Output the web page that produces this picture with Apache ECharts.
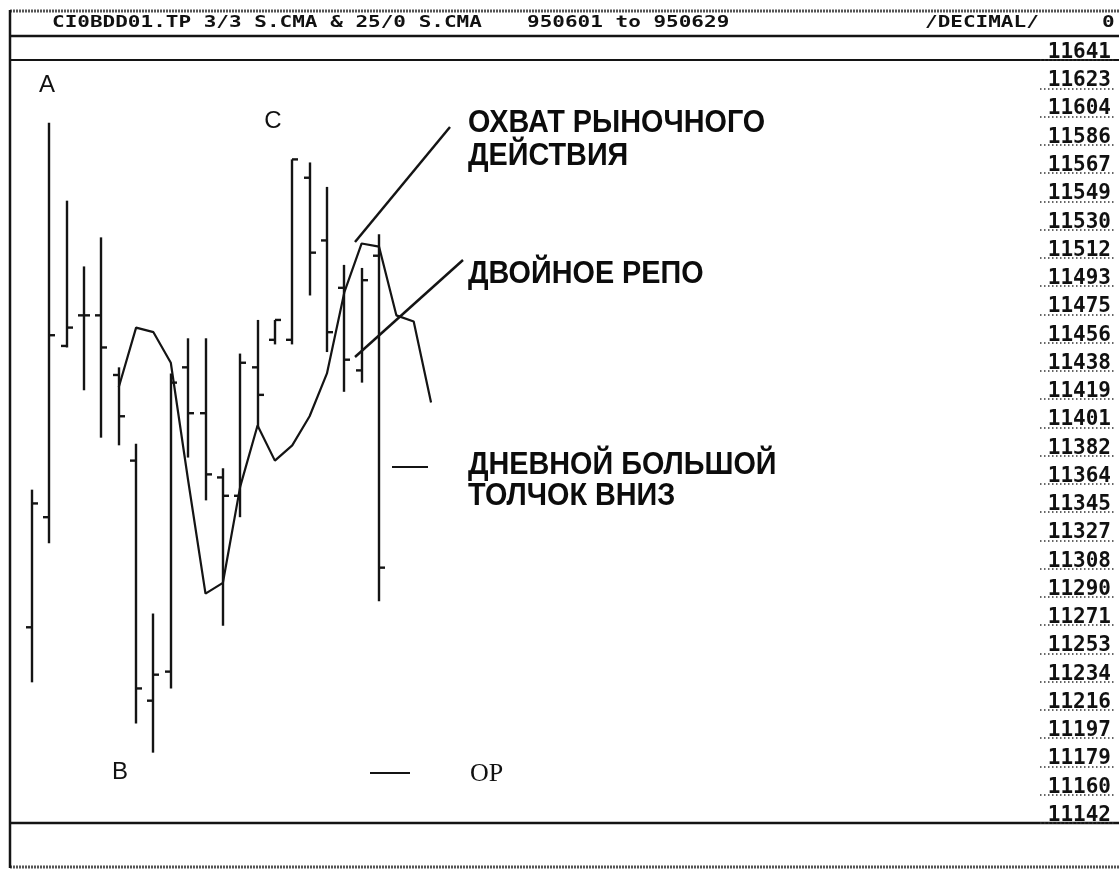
<!DOCTYPE html>
<html>
<head>
<meta charset="utf-8">
<script src="https://cdn.jsdelivr.net/npm/echarts@6/dist/echarts.min.js"></script>
<style>
  html, body { margin: 0; padding: 0; background: #ffffff; }
  #chart { width: 1119px; height: 871px; }
</style>
</head>
<body>
<div id="chart"></div>
<script>
// Daily bars, June 1995, plus three slots the displaced average projects into
const categories = ['950601','950602','950605','950606','950607','950608','950609',
  '950612','950613','950614','950615','950616','950619','950620','950621','950622',
  '950623','950626','950627','950628','950629','','',''];
const opens  = [11270, 11342, 11454, 11474, 11474, 11435, 11379, 11222, 11241, 11440, 11410,
                11368, 11356, 11440, 11458, 11458, 11564, 11523, 11492, 11438, 11513];
const highs  = [11360, 11600, 11549, 11506, 11525, 11440, 11390, 11279, 11436, 11459, 11459,
                11374, 11449, 11471, 11471, 11576, 11574, 11558, 11507, 11505, 11527];
const lows   = [11234, 11325, 11453, 11425, 11394, 11389, 11207, 11188, 11230, 11381, 11353,
                11271, 11342, 11401, 11455, 11455, 11487, 11450, 11424, 11430, 11287];
const closes = [11351, 11461, 11466, 11474, 11453, 11408, 11230, 11239, 11430, 11410, 11370,
                11356, 11443, 11422, 11471, 11576, 11515, 11463, 11445, 11497, 11309];
// 3x3 displaced moving average of closes
const dma3x3 = [null, null, null, null, null, 11427, 11466, 11463, 11443, 11366, 11292, 11299,
                11362, 11402, 11379, 11389, 11408, 11436, 11489, 11521, 11519, 11474, 11470, 11417];
// price scale, top to bottom
const tickLabels = ['11641','11623','11604','11586','11567','11549','11530','11512','11493',
  '11475','11456','11438','11419','11401','11382','11364','11345','11327','11308','11290',
  '11271','11253','11234','11216','11197','11179','11160','11142'];
const priceMin = 11142, priceMax = 11641;

const ohlc = opens.map((o, i) => [i, o, closes[i], highs[i], lows[i]]);

const INK = '#141414';
const SLOT = 17.35;          // pixel width of one trading day
const GRID_LEFT = 32 - SLOT / 2;
const GRID_W = SLOT * categories.length;
const AXIS_X = 1040;         // where the price scale starts

function annot(text, x, y) {
  return {
    type: 'text', x: x, y: y, scaleX: 0.9,
    style: { text: text, x: 0, y: 0, fill: '#0c0c0c', fontFamily: 'Liberation Sans',
             fontWeight: 'bold', fontSize: 32, verticalAlign: 'middle', align: 'left' }
  };
}
function letter(text, x, y) {
  return { type: 'text', x: x, y: y,
    style: { text: text, fill: '#111', fontFamily: 'Liberation Sans', fontSize: 24,
             align: 'center', verticalAlign: 'middle' } };
}
function seg(x1, y1, x2, y2, w, dash, color) {
  return { type: 'line', shape: { x1: x1, y1: y1, x2: x2, y2: y2 },
    style: { stroke: color || INK, lineWidth: w || 2, lineDash: dash || null } };
}
function header(text, x) {
  return { type: 'text', x: x, y: 23, scaleY: 0.75,
    style: { text: text, x: 0, y: 0, fill: '#111', fontFamily: 'DejaVu Sans Mono',
             fontWeight: 'bold', fontSize: 21, verticalAlign: 'middle', align: 'left' } };
}

const chart = echarts.init(document.getElementById('chart'), null, { renderer: 'canvas' });

chart.setOption({
  animation: false,
  backgroundColor: '#ffffff',
  grid: { left: GRID_LEFT, top: 60, width: GRID_W, height: 763 },
  xAxis: {
    type: 'category', data: categories, boundaryGap: true,
    axisLine: { show: false }, axisTick: { show: false }, axisLabel: { show: false },
    splitLine: { show: false }
  },
  yAxis: [
    { type: 'value', min: priceMin, max: priceMax, show: false, splitLine: { show: false } },
    {
      type: 'value', min: 0, max: tickLabels.length - 1, interval: 1,
      position: 'right', offset: AXIS_X - (GRID_LEFT + GRID_W),
      axisLine: { show: false },
      splitLine: { show: false },
      axisTick: { show: true, length: 76, lineStyle: { color: '#333', width: 1.5, type: [1.5, 2.5] } },
      axisLabel: {
        showMinLabel: true, showMaxLabel: true,
        formatter: v => tickLabels[tickLabels.length - 1 - v],
        align: 'right', verticalAlign: 'bottom', margin: 71, lineHeight: 15,
        fontFamily: 'DejaVu Sans Mono', fontWeight: 'bold', fontSize: 21, color: '#111'
      }
    }
  ],
  series: [
    {
      type: 'custom', name: 'CI0BDD01.TP', yAxisIndex: 0,
      data: ohlc,
      encode: { x: 0, y: [1, 2, 3, 4] },
      renderItem: function (params, api) {
        const i = api.value(0);
        const o = api.coord([i, api.value(1)]);
        const c = api.coord([i, api.value(2)]);
        const h = api.coord([i, api.value(3)]);
        const l = api.coord([i, api.value(4)]);
        const x = Math.round(h[0]);
        const st = { stroke: INK, lineWidth: 2.4 };
        return {
          type: 'group',
          children: [
            { type: 'line', shape: { x1: x, y1: h[1], x2: x, y2: l[1] }, style: st },
            { type: 'line', shape: { x1: x - 6, y1: o[1], x2: x, y2: o[1] }, style: st },
            { type: 'line', shape: { x1: x, y1: c[1], x2: x + 6, y2: c[1] }, style: st }
          ]
        };
      }
    },
    {
      type: 'line', name: '3/3 S.CMA', yAxisIndex: 0,
      data: dma3x3, symbol: 'none', connectNulls: false,
      lineStyle: { color: INK, width: 2.2 }
    }
  ],
  graphic: [
    // frame
    seg(10, 11, 1119, 11, 3, [2, 1], '#555'),
    seg(10, 36, 1119, 36, 2.5),
    seg(10, 60, 1119, 60, 2),
    seg(10, 823, 1119, 823, 2.5),
    seg(10, 867, 1119, 867, 3, [2, 1], '#555'),
    seg(10, 10, 10, 868, 2.5),
    // header
    header('CI0BDD01.TP 3/3 S.CMA & 25/0 S.CMA', 52),
    header('950601 to 950629', 527),
    header('/DECIMAL/', 925),
    header('0', 1102),
    // swing letters
    letter('A', 47, 85),
    letter('C', 273, 121),
    letter('B', 120, 772),
    // annotations
    annot('ОХВАТ РЫНОЧНОГО', 468, 123),
    annot('ДЕЙСТВИЯ', 468, 156),
    annot('ДВОЙНОЕ РЕПО', 468, 274),
    annot('ДНЕВНОЙ БОЛЬШОЙ', 468, 465),
    annot('ТОЛЧОК ВНИЗ', 468, 496),
    seg(355, 242, 450, 127, 2.5),
    seg(355, 357, 463, 260, 2.5),
    seg(392, 467, 428, 467, 2),
    seg(370, 773, 410, 773, 2),
    { type: 'text', x: 470, y: 774,
      style: { text: 'OP', fill: '#111', fontFamily: 'Liberation Serif', fontSize: 26,
               align: 'left', verticalAlign: 'middle' } }
  ]
});
</script>
</body>
</html>
